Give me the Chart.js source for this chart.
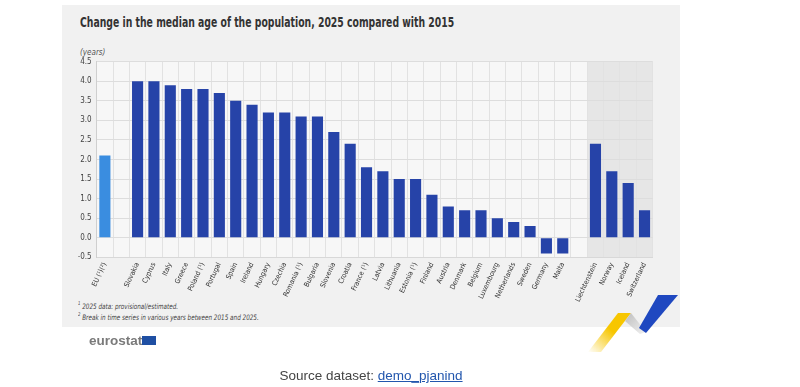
<!DOCTYPE html>
<html>
<head>
<meta charset="utf-8">
<script src="https://cdn.jsdelivr.net/npm/chart.js@4"></script>
<style>
    body { margin: 0; background: #fff; }
    #page { position: relative; width: 800px; height: 387px; overflow: hidden; }
    #panel { position: absolute; left: 62px; top: 5px; width: 618px; height: 322px; background: #f1f1f1; }
    #chartBox { position: absolute; left: 0; top: 0; width: 800px; height: 387px; }
    .narrow { font-family: 'Liberation Sans Narrow', 'DejaVu Sans Condensed', sans-serif; transform-origin: left top; }
    #title { position: absolute; left: 80px; top: 14px; font-size: 13.5px; font-weight: bold; color: #333; white-space: nowrap; transform: scaleX(0.765); }
    #unit { position: absolute; left: 80px; top: 48px; font-size: 8px; font-style: italic; color: #555; }
    .note { position: absolute; left: 78px; font-size: 7.5px; font-style: italic; color: #444; white-space: nowrap; transform: scaleX(0.84); }
    #logo { position: absolute; left: 89px; top: 333px; font-family: 'Liberation Sans', Arial, sans-serif; font-size: 13.5px; font-weight: bold; color: #7a7a7a; }
    #flag { position: absolute; left: 142px; top: 336px; width: 14px; height: 9px; background: #1f4fa3; }
    #source { position: absolute; left: 0; width: 742px; top: 368px; text-align: center; font-family: 'Liberation Sans', Arial, sans-serif; font-size: 13.5px; color: #444; }
    #source a { color: #2256ad; text-decoration: underline; }
    #deco { position: absolute; left: 0; top: 0; pointer-events: none; }
</style>
</head>
<body>
<div id="page">
    <div id="panel"></div>
    <div id="title" class="narrow">Change in the median age of the population, 2025 compared with 2015</div>
    <div id="unit" class="narrow">(years)</div>
    <div class="note narrow" style="top: 300px;"><sup style="font-size:5px">1</sup> 2025 data: provisional/estimated.</div>
    <div class="note narrow" style="top: 311px;"><sup style="font-size:5px">2</sup> Break in time series in various years between 2015 and 2025.</div>
    <div id="chartBox"><canvas id="ageChart"></canvas></div>
    <svg id="deco" width="800" height="387">
        <defs>
            <linearGradient id="yellowFade" x1="1" y1="0" x2="0" y2="1">
                <stop offset="0.45" stop-color="#f7c600"/>
                <stop offset="1" stop-color="#f7c600" stop-opacity="0"/>
            </linearGradient>
            <linearGradient id="greyFold" x1="0" y1="0" x2="1" y2="1">
                <stop offset="0" stop-color="#bdbdbd"/>
                <stop offset="1" stop-color="#f2f2f2"/>
            </linearGradient>
        </defs>
        <polygon points="618,313 631,313 601,352 588,352" fill="url(#yellowFade)"/>
        <polygon points="631,313 646,332 640,334 625,321" fill="url(#greyFold)"/>
        <polygon points="658,295 678,295 646,333 639,328" fill="#1f48c0"/>
    </svg>
    <div id="logo">eurostat</div>
    <div id="flag"></div>
    <div id="source">Source dataset: <a>demo_pjanind</a></div>
</div>
<script>
// Categories (empty strings are spacer slots)
const categories = [
    'EU (¹)(²)', '', 'Slovakia', 'Cyprus', 'Italy', 'Greece', 'Poland (¹)', 'Portugal', 'Spain',
    'Ireland', 'Hungary', 'Czechia', 'Romania (¹)', 'Bulgaria', 'Slovenia', 'Croatia', 'France (¹)',
    'Latvia', 'Lithuania', 'Estonia (¹)', 'Finland', 'Austria', 'Denmark', 'Belgium', 'Luxembourg',
    'Netherlands', 'Sweden', 'Germany', 'Malta', '', 'Liechtenstein', 'Norway', 'Iceland', 'Switzerland'
];

// Change in median age (years)
const medianAgeChange = [
    2.1, null, 4.0, 4.0, 3.9, 3.8, 3.8, 3.7, 3.5,
    3.4, 3.2, 3.2, 3.1, 3.1, 2.7, 2.4, 1.8,
    1.7, 1.5, 1.5, 1.1, 0.8, 0.7, 0.7, 0.5,
    0.4, 0.3, -0.4, -0.4, null, 2.4, 1.7, 1.4, 0.7
];

// Y axis
const yTicks = [-0.5, 0, 0.5, 1, 1.5, 2, 2.5, 3, 3.5, 4, 4.5];
const firstEftaIndex = 30;

const EU_BLUE = '#3a8de0';
const COUNTRY_BLUE = '#2643a8';
const FONT = "'Liberation Sans Narrow', 'DejaVu Sans Condensed', sans-serif";

// Backgrounds: plot area and shaded EFTA block
const backgroundPlugin = {
    id: 'backgrounds',
    beforeDraw(chart) {
        const { ctx, chartArea } = chart;
        const x = chart.scales.x;
        const slot = (x.right - x.left) / categories.length;
        const eftaLeft = x.getPixelForValue(firstEftaIndex) - slot / 2;
        ctx.save();
        ctx.fillStyle = '#f7f7f7';
        ctx.fillRect(chartArea.left, chartArea.top, chartArea.right - chartArea.left, chartArea.bottom - chartArea.top);
        ctx.fillStyle = '#e6e6e6';
        ctx.fillRect(eftaLeft, chartArea.top, chartArea.right - eftaLeft, chartArea.bottom - chartArea.top);
        ctx.restore();
    }
};

document.addEventListener('DOMContentLoaded', () => {
    const ctx = document.getElementById('ageChart').getContext('2d');
    new Chart(ctx, {
        type: 'bar',
        data: {
            labels: categories,
            datasets: [{
                data: medianAgeChange,
                backgroundColor: c => c.dataIndex === 0 ? EU_BLUE : COUNTRY_BLUE,
                barPercentage: 0.68,
                categoryPercentage: 1
            }]
        },
        options: {
            responsive: true,
            maintainAspectRatio: false,
            animation: false,
            layout: {
                padding: { left: 0, top: 61.7, right: 147.3, bottom: 69.7 }
            },
            plugins: {
                legend: { display: false },
                tooltip: { enabled: false }
            },
            scales: {
                x: {
                    grid: { color: '#e2e2e2', drawTicks: false, offset: true },
                    border: { color: '#d8d8d8' },
                    ticks: {
                        autoSkip: false,
                        minRotation: 65,
                        maxRotation: 65,
                        padding: 4,
                        color: '#333',
                        font: { family: FONT, size: 7 }
                    },
                    afterFit: scale => { scale.height = 60; }
                },
                y: {
                    min: -0.5,
                    max: 4.5,
                    afterBuildTicks: scale => { scale.ticks = yTicks.map(v => ({ value: v })); },
                    grid: { color: '#dddddd', drawTicks: false },
                    border: { color: '#cfcfcf' },
                    ticks: {
                        padding: 5,
                        color: '#444',
                        font: { family: FONT, size: 8 },
                        callback: v => v.toFixed(1)
                    },
                    afterFit: scale => { scale.width = 96.7; }
                }
            }
        },
        plugins: [backgroundPlugin]
    });
});
</script>
</body>
</html>
